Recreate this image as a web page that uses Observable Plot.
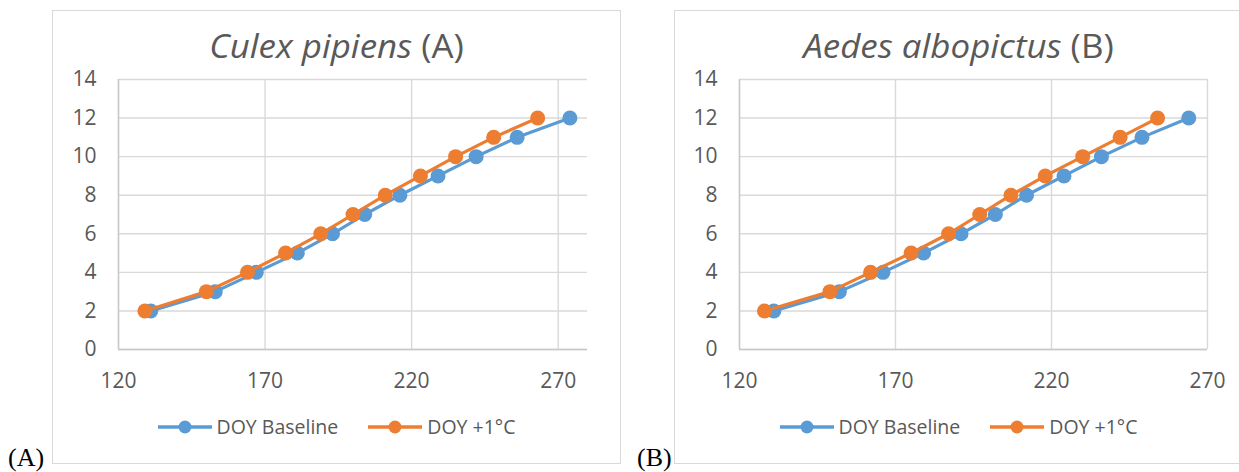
<!DOCTYPE html>
<html>
<head>
<meta charset="utf-8">
<script src="https://cdn.jsdelivr.net/npm/d3@7"></script>
<script src="https://cdn.jsdelivr.net/npm/@observablehq/plot@0.6"></script>
<style>
  html, body { margin: 0; padding: 0; background: #fff; }
  body { width: 1239px; height: 472px; position: relative; overflow: hidden; font-family: "Open Sans", Lato, sans-serif; }
  .panel { position: absolute; top: 10px; width: 569px; height: 454px; border: 1px solid #d9d9d9; box-sizing: border-box; background: #fff; }
  .panel svg.plot { position: absolute; left: 0; top: 0; }
  .title { position: absolute; left: 0; right: 0; top: 19px; text-align: center; font-size: 32px; line-height: 32px; color: #595959; z-index: 2; white-space: nowrap; transform: scaleX(1.09); transform-origin: 50% 50%; }
  .legend { position: absolute; left: 0; right: 0; top: 402px; display: flex; justify-content: center; align-items: center; gap: 30px; font-size: 19.5px; color: #595959; }
  .legend .item { display: flex; align-items: center; gap: 5px; }
  .tag { position: absolute; font-family: "Liberation Serif", "Times New Roman", serif; font-size: 26px; line-height: 26px; color: #000; }
</style>
</head>
<body>
<div id="root"></div>
<script>
// ---- data ----
const levels = [2, 3, 4, 5, 6, 7, 8, 9, 10, 11, 12];
const culexBaseline = [131, 153, 167, 181, 193, 204, 216, 229, 242, 256, 274];
const culexWarm     = [129, 150, 164, 177, 189, 200, 211, 223, 235, 248, 263];
const aedesBaseline = [131, 152, 166, 179, 191, 202, 212, 224, 236, 249, 264];
const aedesWarm     = [128, 149, 162, 175, 187, 197, 207, 218, 230, 242, 254];
const seriesNames = ["DOY Baseline", "DOY +1°C"];
const seriesColors = ["#5B9BD5", "#ED7D31"];
const xTicks = [120, 170, 220, 270];
const yTicks = [0, 2, 4, 6, 8, 10, 12, 14];
const panelTitles = [["Culex pipiens", " (A)"], ["Aedes albopictus", " (B)"]];
const panelTags = ["(A)", "(B)"];

function makeChart(base, warm, xMax, ml, mr) {
  const rows = s => (s === 0 ? base : warm).map((x, i) => ({x, y: levels[i], s: seriesNames[s]}));
  const marks = [
    Plot.gridX(xTicks, {stroke: "#d9d9d9", strokeOpacity: 1, strokeWidth: 1.4}),
    Plot.gridY(yTicks, {stroke: "#d9d9d9", strokeOpacity: 1, strokeWidth: 1.4}),
    Plot.ruleX([120], {stroke: "#c8c8c8", strokeWidth: 1.4}),
    Plot.ruleY([0], {stroke: "#c8c8c8", strokeWidth: 1.4}),
    Plot.axisX(xTicks, {tickSize: 0, tickPadding: 24, fontSize: 21, label: null}),
    Plot.axisY(yTicks, {tickSize: 0, tickPadding: 22, fontSize: 21, label: null})
  ];
  for (let s = 0; s < 2; s++) {
    marks.push(Plot.line(rows(s), {x: "x", y: "y", stroke: "s", strokeWidth: 3.2}));
    marks.push(Plot.dot(rows(s), {x: "x", y: "y", fill: "s", r: 7.5}));
  }
  const svg = Plot.plot({
    width: 567, height: 400,
    marginLeft: ml, marginRight: mr, marginTop: 68, marginBottom: 62,
    style: {fontFamily: "'Open Sans', Lato, sans-serif", color: "#595959", background: "transparent", overflow: "visible"},
    x: {domain: [120, xMax]},
    y: {domain: [0, 14]},
    color: {domain: seriesNames, range: seriesColors},
    marks
  });
  svg.classList.add("plot");
  return svg;
}

function legendSwatch(color) {
  const ns = "http://www.w3.org/2000/svg";
  const s = document.createElementNS(ns, "svg");
  s.setAttribute("width", 54); s.setAttribute("height", 16);
  const l = document.createElementNS(ns, "line");
  l.setAttribute("x1", 0); l.setAttribute("x2", 54); l.setAttribute("y1", 8); l.setAttribute("y2", 8);
  l.setAttribute("stroke", color); l.setAttribute("stroke-width", 3.5);
  const c = document.createElementNS(ns, "circle");
  c.setAttribute("cx", 27); c.setAttribute("cy", 8); c.setAttribute("r", 6.5); c.setAttribute("fill", color);
  s.appendChild(l); s.appendChild(c);
  return s;
}

const root = document.getElementById("root");
const configs = [
  {left: 52, base: culexBaseline, warm: culexWarm, xMax: 280, ml: 65, mr: 33},
  {left: 674, base: aedesBaseline, warm: aedesWarm, xMax: 270, ml: 64, mr: 35}
];
configs.forEach((cfg, k) => {
  const panel = document.createElement("div");
  panel.className = "panel";
  panel.style.left = cfg.left + "px";
  panel.appendChild(makeChart(cfg.base, cfg.warm, cfg.xMax, cfg.ml, cfg.mr));
  const t = document.createElement("div");
  t.className = "title";
  const it = document.createElement("i"); it.textContent = panelTitles[k][0];
  t.appendChild(it); t.appendChild(document.createTextNode(panelTitles[k][1]));
  panel.appendChild(t);
  const lg = document.createElement("div");
  lg.className = "legend";
  seriesNames.forEach((n, i) => {
    const item = document.createElement("div"); item.className = "item";
    item.appendChild(legendSwatch(seriesColors[i]));
    const sp = document.createElement("span"); sp.textContent = n;
    item.appendChild(sp);
    lg.appendChild(item);
  });
  panel.appendChild(lg);
  root.appendChild(panel);
});
[[8, panelTags[0]], [637, panelTags[1]]].forEach(([x, txt]) => {
  const d = document.createElement("div");
  d.className = "tag"; d.style.left = x + "px"; d.style.top = "445px";
  d.textContent = txt;
  root.appendChild(d);
});
</script>
</body>
</html>
